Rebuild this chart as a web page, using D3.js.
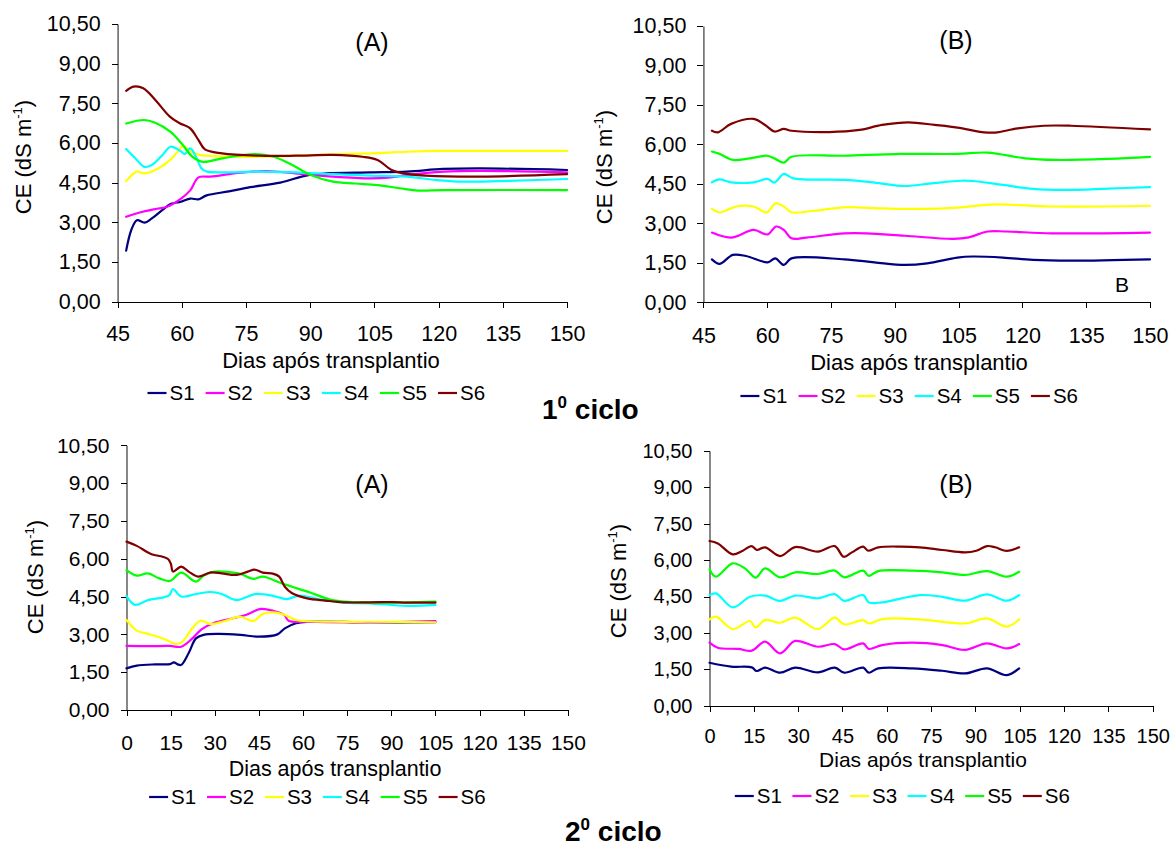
<!DOCTYPE html>
<html>
<head>
<meta charset="utf-8">
<script src="https://cdn.jsdelivr.net/npm/d3@7"></script>
<style>
  body { margin: 0; background: #fff; }
  svg { display: block; }
  text { font-family: "Liberation Sans", Arial, sans-serif; fill: #000; }
</style>
</head>
<body>
<svg id="chart" width="1172" height="847"></svg>
<script>
// ---- Series, colours, ticks ----
const seriesNames  = ["S1", "S2", "S3", "S4", "S5", "S6"];
const seriesColors = ["#000080", "#FF00FF", "#FFFF00", "#00FFFF", "#00FF00", "#800000"];
const yTicks       = [0, 1.5, 3, 4.5, 6, 7.5, 9, 10.5];
const xTicksCycle1 = [45, 60, 75, 90, 105, 120, 135, 150];
const xTicksCycle2 = [0, 15, 30, 45, 60, 75, 90, 105, 120, 135, 150];

// ---- 1º ciclo, (A): [dias após transplantio, CE] ----
const c1a_s1 = [[47,1.93],[48.2,2.71],[49.5,3.08],[51.3,2.99],[53,3.15],[55.5,3.47],[57.5,3.70],[59.8,3.78],[62,3.90],[63.9,3.87],[65.8,4.02],[71,4.17],[76,4.33],[83,4.50],[89,4.77],[93.6,4.85],[104,4.89],[112.6,4.92],[121,5.02],[130,5.04],[150,4.98]];
const c1a_s2 = [[47,3.21],[50.4,3.38],[53.8,3.50],[56.5,3.59],[59.9,3.91],[62,4.22],[63.9,4.70],[66.7,4.73],[73.7,4.88],[79.7,4.94],[86.6,4.85],[95.3,4.73],[104,4.66],[108.3,4.69],[112.6,4.79],[121.2,4.92],[129.9,4.95],[150,4.89]];
const c1a_s3 = [[47,4.56],[49.5,4.92],[51.2,4.85],[53.8,4.98],[57.3,5.36],[59,5.67],[60.3,5.89],[61.6,5.74],[63.3,5.58],[65.9,5.52],[78,5.48],[86.6,5.52],[95.3,5.57],[104,5.61],[112.6,5.67],[121.2,5.70],[150,5.70]];
const c1a_s4 = [[47,5.77],[49.5,5.36],[51.2,5.10],[53,5.17],[55.5,5.55],[57.4,5.86],[59.9,5.67],[60.7,5.58],[62,5.80],[63.3,5.48],[64.6,5.04],[65.9,4.92],[78,4.92],[86.6,4.89],[95.3,4.82],[104,4.77],[112.6,4.73],[119.5,4.60],[125.5,4.54],[134.2,4.56],[150,4.64]];
const c1a_s5 = [[47,6.74],[51.2,6.87],[53.8,6.77],[57.3,6.43],[59.9,5.99],[62.5,5.48],[65,5.29],[69.4,5.42],[77.1,5.58],[81.5,5.48],[85.8,5.17],[90.1,4.79],[95.3,4.54],[100.5,4.47],[105.7,4.41],[110.9,4.29],[115.2,4.20],[121.2,4.22],[150,4.22]];
const c1a_s6 = [[47,7.97],[48.7,8.13],[51,8.07],[53.8,7.63],[57.2,7.00],[59.5,6.75],[61.9,6.56],[63.9,6.11],[65.4,5.76],[69.4,5.61],[78,5.52],[86.6,5.52],[95.3,5.55],[102.2,5.48],[105.7,5.36],[109,4.98],[111.7,4.85],[116.9,4.77],[129.9,4.73],[150,4.82]];

// ---- 1º ciclo, (B) ----
const c1b_s1 = [[47,1.63],[48.8,1.46],[51.9,1.80],[55,1.76],[60.1,1.52],[61.9,1.67],[63.9,1.42],[65.7,1.67],[78.1,1.63],[85.2,1.52],[92.3,1.42],[97.6,1.48],[104.7,1.70],[108.3,1.74],[115.4,1.70],[122.5,1.61],[131.4,1.58],[150,1.63]];
const c1b_s2 = [[47,2.65],[51.5,2.46],[56.8,2.75],[60.1,2.58],[62.1,2.88],[63.9,2.75],[65.7,2.43],[69.2,2.46],[78.1,2.62],[83.4,2.62],[92.3,2.53],[103.8,2.41],[107.4,2.47],[111.8,2.69],[116.3,2.69],[126.9,2.62],[150,2.65]];
const c1b_s3 = [[47,3.55],[48.8,3.42],[51.5,3.57],[53.3,3.66],[56.8,3.64],[59.9,3.42],[62,3.76],[63.9,3.64],[65.7,3.42],[71,3.48],[78.1,3.61],[87,3.57],[95.9,3.55],[104.7,3.60],[113.6,3.72],[126.9,3.64],[150,3.67]];
const c1b_s4 = [[47,4.56],[48.8,4.67],[51.5,4.56],[56.8,4.56],[60.1,4.69],[61.7,4.55],[63.9,4.88],[66.1,4.71],[78.1,4.65],[85.2,4.55],[92.3,4.42],[98.5,4.52],[105.6,4.62],[108.3,4.61],[115.4,4.46],[122.5,4.31],[129.6,4.27],[140.2,4.32],[150,4.38]];
const c1b_s5 = [[47,5.73],[48.8,5.64],[51.9,5.41],[55.9,5.47],[59.9,5.57],[61.7,5.47],[63.9,5.31],[65.7,5.53],[78.1,5.57],[91.4,5.64],[104.7,5.64],[111.8,5.69],[120.7,5.47],[127.8,5.41],[140.2,5.45],[150,5.53]];
const c1b_s6 = [[47,6.52],[48.4,6.46],[51.5,6.78],[56.8,6.97],[59.5,6.74],[61.7,6.49],[63.9,6.59],[65.7,6.52],[74.6,6.47],[81.7,6.55],[87,6.74],[93.2,6.84],[99.4,6.74],[104.7,6.64],[111,6.46],[113.6,6.45],[118.9,6.61],[125.1,6.71],[131.4,6.71],[150,6.57]];

// ---- 2º ciclo, (A) ----
const c2a_s1 = [[0,1.65],[3.5,1.76],[9.8,1.81],[14.8,1.82],[16.1,1.89],[17.4,1.81],[18.6,1.79],[21.1,2.25],[23.6,2.84],[26.2,2.98],[31.2,3.02],[38.7,2.98],[45,2.91],[51.3,3.00],[53.8,3.24],[57.6,3.44],[61.4,3.50],[82.7,3.48],[105,3.48]];
const c2a_s2 = [[0,2.54],[7.3,2.53],[14.8,2.54],[18.6,2.51],[22.4,2.84],[25.5,3.20],[29.9,3.46],[36.2,3.64],[41.2,3.80],[45.6,4.01],[50,3.93],[53.6,3.77],[55.1,3.54],[61.4,3.50],[82.7,3.48],[105,3.53]];
const c2a_s3 = [[0,3.57],[3.5,3.15],[7.3,3.02],[12.3,2.84],[14.8,2.71],[16.7,2.62],[18.6,2.67],[22.4,3.24],[25.1,3.54],[28.7,3.41],[33.7,3.54],[38.7,3.70],[43.1,3.53],[46.3,3.81],[50,3.87],[53.8,3.77],[57.6,3.57],[70.2,3.50],[82.7,3.50],[105,3.48]];
const c2a_s4 = [[0,4.52],[2.9,4.17],[7.3,4.36],[12.3,4.46],[14.6,4.56],[15.8,4.80],[18.6,4.50],[23.6,4.60],[28.7,4.68],[32.4,4.60],[37.5,4.36],[43.8,4.60],[50,4.52],[54.4,4.40],[58.8,4.54],[65.1,4.40],[73.9,4.26],[82.7,4.23],[95.3,4.13],[105,4.17]];
const c2a_s5 = [[0,5.55],[3.5,5.33],[7.3,5.42],[11.1,5.22],[14.8,5.12],[18.6,5.45],[23.6,5.09],[26.2,5.33],[29.9,5.49],[35,5.47],[38.7,5.40],[43.1,5.20],[46.3,5.29],[52.6,5.03],[56.3,4.89],[62.6,4.65],[68.9,4.39],[73.9,4.30],[82.7,4.26],[105,4.30]];
const c2a_s6 = [[0,6.68],[3.5,6.51],[8.5,6.18],[12.3,6.08],[14.2,5.98],[15.1,5.79],[15.8,5.49],[18.6,5.69],[21.1,5.49],[24.3,5.29],[28.7,5.46],[32.4,5.42],[37.5,5.36],[41.2,5.49],[43.5,5.57],[46.3,5.45],[50,5.40],[51.9,5.29],[53.8,4.89],[56.3,4.63],[61.4,4.43],[67.6,4.34],[73.9,4.27],[82.7,4.27],[90.3,4.28],[95.3,4.26],[105,4.26]];

// ---- 2º ciclo, (B) ----
const c2b_s1 = [[0,1.77],[7.3,1.61],[14.3,1.58],[16,1.43],[18.8,1.57],[23.9,1.36],[29,1.57],[36.7,1.37],[42.4,1.57],[45.6,1.36],[52,1.57],[53.9,1.36],[57.1,1.54],[68.6,1.54],[78.8,1.44],[86.5,1.33],[93.9,1.54],[100.6,1.26],[104.8,1.54]];
const c2b_s2 = [[0,2.60],[2.8,2.39],[9.8,2.34],[14.3,2.27],[18.8,2.64],[23.9,2.16],[29,2.67],[36.7,2.43],[42.4,2.54],[45.6,2.32],[52,2.57],[53.9,2.34],[58.4,2.50],[68.6,2.60],[78.8,2.50],[86.5,2.30],[93.9,2.57],[100.6,2.36],[104.8,2.54]];
const c2b_s3 = [[0,3.56],[2.2,3.67],[7.9,3.16],[13.7,3.49],[15.6,3.23],[18.8,3.53],[23.9,3.42],[29,3.63],[36.7,3.16],[42.4,3.63],[45.6,3.35],[52,3.53],[53.9,3.39],[58.4,3.57],[71.2,3.56],[86.5,3.39],[93.9,3.60],[100.6,3.26],[104.8,3.56]];
const c2b_s4 = [[0,4.56],[2.2,4.63],[7.9,4.05],[13.7,4.49],[18.8,4.54],[23.9,4.32],[29,4.54],[36.7,4.43],[42.4,4.60],[45.6,4.32],[52,4.56],[53.9,4.26],[58.4,4.26],[71.2,4.56],[78.8,4.49],[86.5,4.33],[93.9,4.59],[100.6,4.33],[104.8,4.56]];
const c2b_s5 = [[0,5.63],[2.2,5.32],[7.9,5.87],[12.4,5.62],[15.6,5.28],[18.8,5.66],[23.9,5.29],[29,5.50],[36.7,5.43],[42.4,5.57],[45.6,5.29],[52,5.57],[53.9,5.35],[57.1,5.55],[68.6,5.57],[78.8,5.50],[86.5,5.39],[93.9,5.55],[100.6,5.32],[104.8,5.52]];
const c2b_s6 = [[0,6.79],[2.8,6.69],[7.9,6.24],[11.1,6.38],[14.3,6.58],[16,6.42],[18.8,6.53],[23.9,6.17],[29,6.54],[36.7,6.35],[42.4,6.58],[45.4,6.14],[48.2,6.32],[52,6.56],[53.7,6.39],[57.1,6.53],[64.8,6.56],[71.2,6.53],[78.8,6.42],[86.5,6.32],[90.3,6.39],[93.9,6.58],[96.7,6.53],[100.6,6.38],[104.8,6.53]];

// ---- Panel layout ----
const panels = [
  { series: [c1a_s1, c1a_s2, c1a_s3, c1a_s4, c1a_s5, c1a_s6], xTicks: xTicksCycle1, title: "(A)",
    left: 117.6, right: 567.1, top: 24, bottom: 301.7, titleX: 372, titleY: 42,
    tickFont: 21.5, tickBase: 341, xLabelX: 331, xLabelBase: 368, labelFont: 22,
    legendX: 147.5, legendY: 393, legendStep: 58.1, yLabelX: 23, yLabelY: 157 },
  { series: [c1b_s1, c1b_s2, c1b_s3, c1b_s4, c1b_s5, c1b_s6], xTicks: xTicksCycle1, title: "(B)",
    left: 703.4, right: 1150, top: 26, bottom: 302.3, titleX: 956, titleY: 40,
    tickFont: 21.5, tickBase: 343, xLabelX: 919, xLabelBase: 370, labelFont: 22,
    legendX: 740.4, legendY: 396, legendStep: 58.1, yLabelX: 604, yLabelY: 167,
    note: { text: "B", x: 1122, y: 285 } },
  { series: [c2a_s1, c2a_s2, c2a_s3, c2a_s4, c2a_s5, c2a_s6], xTicks: xTicksCycle2, title: "(A)",
    left: 126.5, right: 567.9, top: 445.3, bottom: 710, titleX: 372, titleY: 484,
    tickFont: 21, tickBase: 750, xLabelX: 335, xLabelBase: 776, labelFont: 21.5,
    legendX: 149.1, legendY: 797, legendStep: 57.9, yLabelX: 35, yLabelY: 577 },
  { series: [c2b_s1, c2b_s2, c2b_s3, c2b_s4, c2b_s5, c2b_s6], xTicks: xTicksCycle2, title: "(B)",
    left: 709.5, right: 1152.7, top: 451, bottom: 705.7, titleX: 956, titleY: 484,
    tickFont: 20, tickBase: 743, xLabelX: 923, xLabelBase: 767, labelFont: 21,
    legendX: 734.8, legendY: 796, legendStep: 57.6, yLabelX: 618, yLabelY: 581 }
];

const ptBR = d3.formatLocale({ decimal: ",", thousands: ".", grouping: [3], currency: ["R$", ""] });
const fmt = ptBR.format(".2f");

const svg = d3.select("#chart");

panels.forEach(p => {
  const g = svg.append("g");
  const x = d3.scaleLinear().domain([p.xTicks[0], p.xTicks[p.xTicks.length - 1]]).range([p.left, p.right]);
  const y = d3.scaleLinear().domain([0, 10.5]).range([p.bottom, p.top]);

  // y axis
  const ya = g.append("g").attr("transform", `translate(${p.left},0)`)
    .call(d3.axisLeft(y).tickValues(yTicks).tickFormat(fmt).tickSize(6).tickSizeOuter(0).tickPadding(11));
  ya.selectAll("text").style("font-size", p.tickFont + "px");
  ya.select(".domain").attr("stroke", "#555").attr("stroke-width", 1.4);

  // x axis
  const xa = g.append("g").attr("transform", `translate(0,${p.bottom})`)
    .call(d3.axisBottom(x).tickValues(p.xTicks).tickFormat(d3.format("d")).tickSize(6).tickSizeOuter(0));
  xa.selectAll("text").attr("dy", 0).attr("y", p.tickBase - p.bottom).style("font-size", p.tickFont + "px");
  xa.select(".domain").attr("stroke", "#000").attr("stroke-width", 1).attr("shape-rendering", "crispEdges");

  [ya, xa].forEach(a => {
    a.selectAll(".tick line").attr("stroke", "#000").attr("shape-rendering", "crispEdges");
    a.selectAll("text").attr("fill", "#000").style("font-family", '"Liberation Sans", Arial, sans-serif');
  });

  // series lines
  const line = d3.line().x(d => x(d[0])).y(d => y(d[1])).curve(d3.curveCatmullRom.alpha(0.5));
  p.series.forEach((s, i) => {
    g.append("path").datum(s).attr("d", line)
      .attr("fill", "none").attr("stroke", seriesColors[i]).attr("stroke-width", 2.2)
      .attr("stroke-linejoin", "round").attr("stroke-linecap", "round");
  });

  // panel title
  g.append("text").attr("x", p.titleX).attr("y", p.titleY).attr("dy", "0.35em")
    .attr("text-anchor", "middle").style("font-size", "25px").text(p.title);

  if (p.note) {
    g.append("text").attr("x", p.note.x).attr("y", p.note.y).attr("dy", "0.35em")
      .attr("text-anchor", "middle").style("font-size", "21px").text(p.note.text);
  }

  // x axis label
  g.append("text").attr("x", p.xLabelX).attr("y", p.xLabelBase).attr("text-anchor", "middle")
    .style("font-size", p.labelFont + "px").text("Dias após transplantio");

  // y axis label
  const yl = g.append("text")
    .attr("transform", `translate(${p.yLabelX},${p.yLabelY}) rotate(-90)`)
    .attr("text-anchor", "middle").attr("dy", "0.36em").style("font-size", "22px");
  yl.append("tspan").text("CE (dS m");
  yl.append("tspan").attr("dy", -9).style("font-size", "13px").text("-1");
  yl.append("tspan").attr("dy", 9).text(")");

  // legend
  seriesNames.forEach((name, i) => {
    const lx = p.legendX + i * p.legendStep;
    g.append("line").attr("x1", lx).attr("x2", lx + 19).attr("y1", p.legendY).attr("y2", p.legendY)
      .attr("stroke", seriesColors[i]).attr("stroke-width", 2.2);
    g.append("text").attr("x", lx + 22).attr("y", p.legendY).attr("dy", "0.36em")
      .style("font-size", "20.5px").text(name);
  });
});

// cycle captions
function caption(num, xPos, base) {
  const t = svg.append("text").attr("x", xPos).attr("y", base)
    .style("font-size", "28px").style("font-weight", "bold");
  t.append("tspan").text(num);
  t.append("tspan").attr("dy", -11).style("font-size", "17px").text("0");
  t.append("tspan").attr("dy", 11).text(" ciclo");
}
caption("1", 542, 419);
caption("2", 565, 841);
</script>
</body>
</html>
